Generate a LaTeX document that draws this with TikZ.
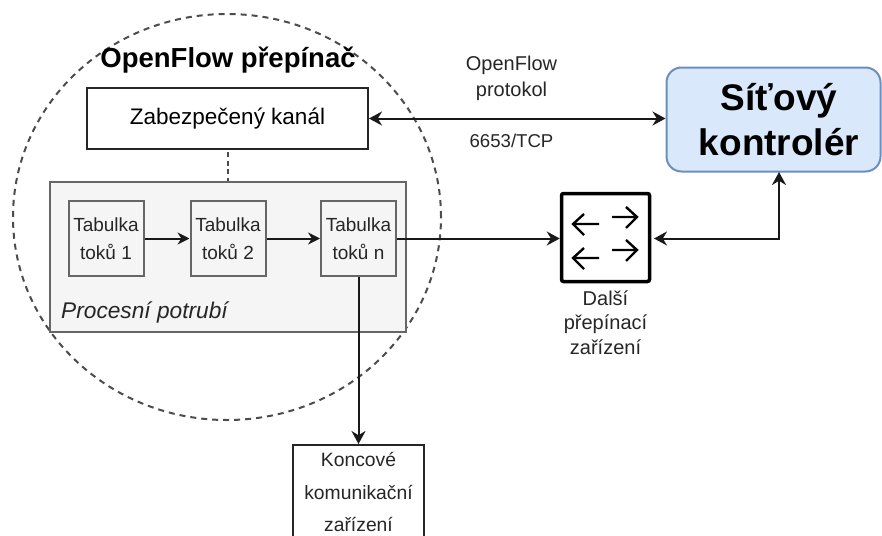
\documentclass[tikz,border=0pt]{standalone}
\usepackage{fontspec}
\setmainfont{Liberation Sans}
\usetikzlibrary{arrows.meta,shapes.geometric}
\definecolor{ctlfill}{HTML}{DAE8FC}
\definecolor{ctldraw}{HTML}{6C8EBF}
\tikzset{
 x=1pt,y=-1pt,
 boxw/.style={draw=black!85,line width=2pt,fill=white,inner sep=0pt,align=center},
 tbl/.style={draw=black!60,line width=2pt,fill=black!4,minimum width=75pt,minimum height=75pt,inner sep=0pt,align=center,text=black!85,font=\fontsize{19}{28}\selectfont},
 arr/.style={draw=black!90,line width=2pt,-{Stealth[length=12pt,width=12pt]}},
 arrb/.style={draw=black!90,line width=2pt,-{Stealth[length=13pt,width=14pt]}},
 darr/.style={draw=black!90,line width=2pt,{Stealth[length=13pt,width=14pt]}-{Stealth[length=13pt,width=14pt]}},
 lab/.style={inner sep=0pt,align=center,text=black!85,font=\fontsize{20}{26}\selectfont},
 swl/.style={draw=black,line width=2.4pt}
}
\begin{document}
\begin{tikzpicture}
\useasboundingbox (0,0) rectangle (882,535);
\fill[white] (0,0) rectangle (882,535);
\node[draw=black!70,line width=2pt,dash pattern=on 6pt off 5pt,ellipse,minimum width=428pt,minimum height=406pt,inner sep=0pt] (sw) at (227,217) {};
\node[boxw,minimum width=281pt,minimum height=61pt,font=\fontsize{22.5}{24}\selectfont] (sec) at (227.5,118.5) {Zabezpečený kanál};
\node[draw=black!60,line width=2pt,fill=black!4,minimum width=356pt,minimum height=150pt,inner sep=0pt] (pipe) at (228,257) {};
\node[inner sep=0pt,anchor=west,font=\fontsize{22.7}{24}\selectfont\itshape,text=black!85] (pl) at (61,312) {Procesní potrubí};
\node[tbl] (t1) at (106,238.5) {Tabulka\\toků 1};
\node[tbl] (t2) at (228,238.5) {Tabulka\\toků 2};
\node[tbl] (t3) at (358.5,238.5) {Tabulka\\toků n};
\node[inner sep=0pt,font=\fontsize{27.5}{30}\selectfont\bfseries] (title) at (228,60) {OpenFlow přepínač};
\node[draw=ctldraw,line width=2pt,fill=ctlfill,rounded corners=15pt,minimum width=214pt,minimum height=104pt,inner sep=0pt] (ctl) at (773.5,119.5) {};
\node[inner sep=0pt,align=center,font=\fontsize{37}{45}\selectfont\bfseries] (ctlt) at (779,119.5) {Síťový\\kontrolér};
\node[draw=black,line width=3.5pt,rounded corners=2pt,fill=white,minimum width=88pt,minimum height=88pt,inner sep=0pt] (net) at (605.5,237.5) {};
\draw[swl] (612,217)--(637,217) (626,207)--(637,217)--(626,228);
\draw[swl] (599,224)--(573,224) (584,214)--(573,224)--(584,235);
\draw[swl] (612,250)--(637,250) (626,240)--(637,250)--(626,261);
\draw[swl] (599,258)--(573,258) (584,248)--(573,258)--(584,269);
\node[lab,font=\fontsize{20}{24.5}\selectfont] (dal) at (605.5,322.5) {Další\\přepínací\\zařízení};
\node[boxw,anchor=north,minimum width=131pt,minimum height=110pt] (end) at (358.5,444) {};
\node[inner sep=0pt,align=center,text=black!85,font=\fontsize{19.3}{32.5}\selectfont] (endt) at (358.5,492) {Koncové\\komunikační\\zařízení};
\coordinate (netr) at (654,238.5);
\coordinate (ctlb) at (779,172);
\coordinate (dashtop) at (228,152);
\draw[arr] (t1)--(t2);
\draw[arr] (t2)--(t3);
\draw[arrb] (t3.east)--(net.west|-t3.east);
\draw[arrb] (t3)--(end);
\draw[draw=black!70,line width=2pt,dash pattern=on 5pt off 3.5pt] (dashtop)--(pipe.north);
\draw[darr] (sec.east) -- (ctl.west|-sec.east);
\draw[darr] (netr) -| (ctlb);
\node[lab] (p1) at (511.5,78.5) {OpenFlow\\protokol};
\node[lab,font=\fontsize{18.6}{24}\selectfont] (p2) at (511.5,141) {6653/TCP};
\end{tikzpicture}
\end{document}
